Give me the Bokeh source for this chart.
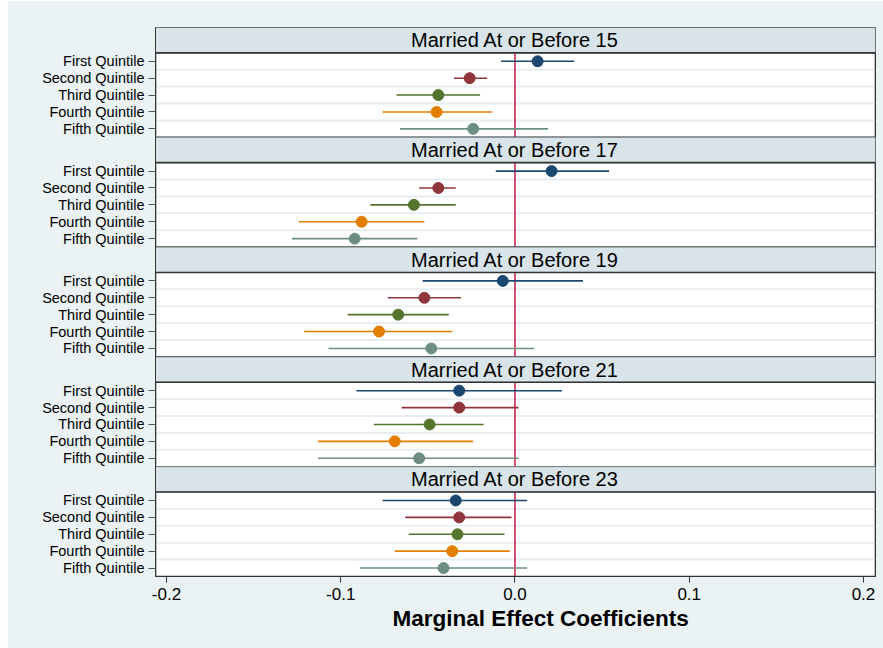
from bokeh.plotting import figure
from bokeh.models import Range1d, FixedTicker, Title
from bokeh.core.properties import value
from bokeh.embed import file_html
from bokeh.resources import INLINE

# ---- data -------------------------------------------------------------
quintiles = ["First Quintile", "Second Quintile", "Third Quintile",
             "Fourth Quintile", "Fifth Quintile"]
panels = ["Married At or Before 15", "Married At or Before 17",
          "Married At or Before 19", "Married At or Before 21",
          "Married At or Before 23"]

coef15 = [0.013, -0.026, -0.044, -0.045, -0.024]
lo15 = [-0.008, -0.035, -0.068, -0.076, -0.066]
hi15 = [0.034, -0.016, -0.020, -0.013, 0.019]

coef17 = [0.021, -0.044, -0.058, -0.088, -0.092]
lo17 = [-0.011, -0.055, -0.083, -0.124, -0.128]
hi17 = [0.054, -0.034, -0.034, -0.052, -0.056]

coef19 = [-0.007, -0.052, -0.067, -0.078, -0.048]
lo19 = [-0.053, -0.073, -0.096, -0.121, -0.107]
hi19 = [0.039, -0.031, -0.038, -0.036, 0.011]

coef21 = [-0.032, -0.032, -0.049, -0.069, -0.055]
lo21 = [-0.091, -0.065, -0.081, -0.113, -0.113]
hi21 = [0.027, 0.002, -0.018, -0.024, 0.002]

coef23 = [-0.034, -0.032, -0.033, -0.036, -0.041]
lo23 = [-0.076, -0.063, -0.061, -0.069, -0.089]
hi23 = [0.007, -0.002, -0.006, -0.003, 0.007]

x_ticks = [-0.2, -0.1, 0.0, 0.1, 0.2]
x_tick_labels = ["-0.2", "-0.1", "0.0", "0.1", "0.2"]
x_title = "Marginal Effect Coefficients"

coefs = [coef15, coef17, coef19, coef21, coef23]
lows = [lo15, lo17, lo19, lo21, lo23]
highs = [hi15, hi17, hi19, hi21, hi23]

# Stata s2color palette, one colour per quintile
colors = ["#1a476f", "#90353b", "#55752f", "#e37e00", "#6e8e84"]

# ---- layout units (y runs downward) ----------------------------------
HEADER = 1.5
NROWS = len(quintiles)
PANEL = HEADER + NROWS
TOTAL = PANEL * len(panels)

FONT = "Liberation Sans"
BG = "#eaf2f3"

xr = Range1d(-0.2063, 0.2069)
p = figure(width=876, height=648, x_range=xr, y_range=Range1d(TOTAL, 0),
           output_backend="svg", toolbar_location=None,
           min_border_left=148, min_border_right=8,
           min_border_top=27, min_border_bottom=72)
p.margin = (0, 0, 0, 7)
p.background_fill_color = "white"
p.border_fill_color = BG
p.outline_line_color = "#333333"
p.outline_line_width = 1
p.xgrid.visible = False
p.ygrid.visible = False

tick_pos, tick_lab = [], []
for k, title in enumerate(panels):
    top = k * PANEL
    body_top = top + HEADER
    body_bot = top + PANEL

    # strip header
    p.quad(left=xr.start, right=xr.end, top=top, bottom=body_top,
           fill_color="#d8e4e9", line_color="#7d8a91", line_width=1)
    p.text(x=[0.0], y=[top + HEADER / 2], text=[title],
           text_font=value(FONT), text_font_size="20px",
           text_align="center", text_baseline="middle", text_color="black")

    # separators between coefficient rows
    seps = [body_top + i for i in range(1, NROWS)]
    p.segment(x0=[xr.start] * len(seps), x1=[xr.end] * len(seps),
              y0=seps, y1=seps, line_color="#e6eef1", line_width=2)

    # reference line at zero
    p.segment(x0=[0], x1=[0], y0=[body_top], y1=[body_bot],
              line_color="#c41840", line_width=1.5)

    rows = [body_top + 0.5 + i for i in range(NROWS)]
    p.segment(x0=lows[k], x1=highs[k], y0=rows, y1=rows,
              line_color=colors, line_width=1.6)
    p.scatter(x=coefs[k], y=rows, size=11, fill_color=colors,
              line_color=colors)

    # panel frame
    p.quad(left=xr.start, right=xr.end, top=body_top, bottom=body_bot,
           fill_color=None, line_color="#333333", line_width=1.6)

    tick_pos += rows
    tick_lab += quintiles

# ---- axes --------------------------------------------------------------
ya = p.yaxis[0]
ya.ticker = FixedTicker(ticks=tick_pos)
ya.major_label_overrides = {t: l for t, l in zip(tick_pos, tick_lab)}
ya.major_label_text_font = FONT
ya.major_label_text_font_size = "14.5px"
ya.major_label_text_color = "black"
ya.major_tick_out = 7
ya.major_tick_in = 0
ya.major_tick_line_color = "#555555"
ya.major_tick_line_width = 1
ya.minor_tick_line_color = None
ya.axis_line_color = "#333333"
ya.major_label_standoff = 4

xa = p.xaxis[0]
xa.ticker = FixedTicker(ticks=x_ticks)
xa.major_label_overrides = {t: l for t, l in zip(x_ticks, x_tick_labels)}
xa.major_label_text_font = FONT
xa.major_label_text_font_size = "17px"
xa.major_label_text_color = "black"
xa.major_tick_out = 6
xa.major_tick_in = 0
xa.major_tick_line_color = "#333333"
xa.minor_tick_line_color = None
xa.axis_line_color = "#333333"
xa.major_label_standoff = 5

# axis title, centred on the whole graph region rather than the plot frame
p.add_layout(Title(text=x_title, align="left", offset=237, standoff=2,
                   text_font=FONT, text_font_size="22.5px",
                   text_font_style="bold", text_color="black"), "below")

open("out.html", "w").write(file_html(p, INLINE))
